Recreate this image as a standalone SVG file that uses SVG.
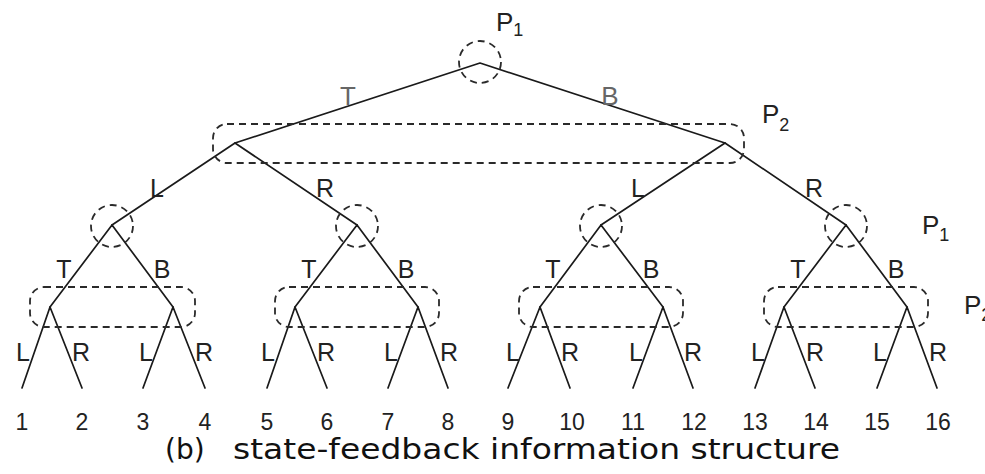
<svg xmlns="http://www.w3.org/2000/svg" width="985" height="474" viewBox="0 0 985 474">
<style>
.e{stroke:#1a1a1a;stroke-width:1.7;fill:none;stroke-linecap:round}
.d{stroke:#2a2a2a;stroke-width:1.8;fill:none;stroke-dasharray:7 5}
.lb{font-family:"Liberation Sans",Arial,sans-serif;font-size:25px;fill:#222;text-anchor:middle}
.lg{font-family:"Liberation Sans",Arial,sans-serif;font-size:26px;fill:#666;text-anchor:middle}
.p{font-family:"Liberation Sans",Arial,sans-serif;font-size:26px;fill:#222}
.s{font-size:18px}
.n{font-family:"Liberation Sans",Arial,sans-serif;font-size:23px;fill:#222;text-anchor:middle}
.c{font-family:"DejaVu Sans",sans-serif;font-size:28px;fill:#111}
</style>
<rect width="985" height="474" fill="#fff"/>
<g id="connectors">
<path class="e" d="M480,63 L235,143 M480,63 L725,143"/>
<path class="e" d="M235,143 L112,225 M235,143 L357,225 M725,143 L601,225 M725,143 L846,225"/>
<path class="e" d="M112,225 L50,307 M112,225 L173,307 M357,225 L295,307 M357,225 L418,307 M601,225 L540,307 M601,225 L663,307 M846,225 L784,307 M846,225 L907,307"/>
<path class="e" d="M50,307 L22,388 M50,307 L82,388 M173,307 L143,388 M173,307 L205,388 M295,307 L267,388 M295,307 L327,388 M418,307 L388,388 M418,307 L448,388 M540,307 L508,388 M540,307 L570,388 M663,307 L633,388 M663,307 L693,388 M784,307 L755,388 M784,307 L815,388 M907,307 L877,388 M907,307 L937,388"/>
</g>
<g id="info-sets">
<circle id="is-root" class="d" cx="480" cy="62" r="21"/>
<rect id="is-p2-top" class="d" x="213" y="124" width="531" height="39" rx="14"/>
<circle id="is-a" class="d" cx="112" cy="226" r="21"/>
<circle id="is-b" class="d" cx="357" cy="226" r="21"/>
<circle id="is-c" class="d" cx="601" cy="226" r="21"/>
<circle id="is-d" class="d" cx="846" cy="226" r="21"/>
<rect id="is-e" class="d" x="30" y="287" width="165" height="40" rx="14"/>
<rect id="is-f" class="d" x="275" y="287" width="164" height="40" rx="14"/>
<rect id="is-g" class="d" x="519" y="287" width="164" height="40" rx="14"/>
<rect id="is-h" class="d" x="764" y="287" width="164" height="40" rx="14"/>
</g>
<g id="player-labels">
<text class="p" x="496" y="31">P<tspan class="s" dy="5">1</tspan></text>
<text class="p" x="762" y="123">P<tspan class="s" dy="8">2</tspan></text>
<text class="p" x="922" y="234">P<tspan class="s" dy="7">1</tspan></text>
<text class="p" x="964" y="314">P<tspan class="s" dy="7">2</tspan></text>
</g>
<g id="edge-labels">
<text class="lg" x="348" y="105">T</text>
<text class="lg" x="610" y="105">B</text>
<text class="lb" x="157" y="197">L</text>
<text class="lb" x="325" y="197">R</text>
<text class="lb" x="638" y="197">L</text>
<text class="lb" x="814" y="197">R</text>
<text class="lb" x="64" y="278">T</text>
<text class="lb" x="162" y="278">B</text>
<text class="lb" x="309" y="278">T</text>
<text class="lb" x="406" y="278">B</text>
<text class="lb" x="553" y="278">T</text>
<text class="lb" x="651" y="278">B</text>
<text class="lb" x="798" y="278">T</text>
<text class="lb" x="896" y="278">B</text>
<text class="lb" x="23" y="361">L</text>
<text class="lb" x="81" y="361">R</text>
<text class="lb" x="146" y="361">L</text>
<text class="lb" x="204" y="361">R</text>
<text class="lb" x="268" y="361">L</text>
<text class="lb" x="326" y="361">R</text>
<text class="lb" x="391" y="361">L</text>
<text class="lb" x="449" y="361">R</text>
<text class="lb" x="513" y="361">L</text>
<text class="lb" x="570" y="361">R</text>
<text class="lb" x="636" y="361">L</text>
<text class="lb" x="693" y="361">R</text>
<text class="lb" x="758" y="361">L</text>
<text class="lb" x="815" y="361">R</text>
<text class="lb" x="880" y="361">L</text>
<text class="lb" x="938" y="361">R</text>
</g>
<g id="leaves">
<text class="n" x="22" y="430">1</text>
<text class="n" x="82" y="430">2</text>
<text class="n" x="143" y="430">3</text>
<text class="n" x="205" y="430">4</text>
<text class="n" x="267" y="430">5</text>
<text class="n" x="327" y="430">6</text>
<text class="n" x="388" y="430">7</text>
<text class="n" x="448" y="430">8</text>
<text class="n" x="508" y="430">9</text>
<text class="n" x="572" y="430">10</text>
<text class="n" x="633" y="430">11</text>
<text class="n" x="694" y="430">12</text>
<text class="n" x="755" y="430">13</text>
<text class="n" x="816" y="430">14</text>
<text class="n" x="877" y="430">15</text>
<text class="n" x="938" y="430">16</text>
</g>
<text id="caption" class="c" y="459"><tspan x="165">(b)</tspan><tspan x="233" textLength="607" lengthAdjust="spacingAndGlyphs">state-feedback information structure</tspan></text>
</svg>
